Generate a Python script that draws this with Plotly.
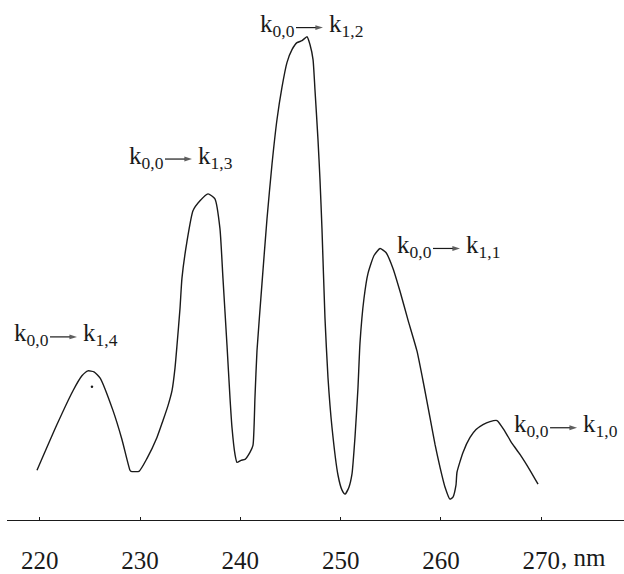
import plotly.graph_objects as go

# Absorption spectrum: wavelength (nm) vs. intensity (arb. units)
wavelength_nm = [
    219.73, 221.72, 223.32, 224.21, 224.81, 225.41, 226.01, 227.31, 228.20, 229.00,
    229.10, 229.90, 230.70, 231.69, 232.29, 232.79, 233.19, 233.49, 233.69, 233.99,
    234.18, 234.68, 235.28, 235.98, 236.78, 237.47, 237.97, 238.27, 238.67, 238.97,
    239.17, 239.47, 239.67, 240.07, 240.47, 240.96, 241.26, 241.46, 241.66, 242.16,
    242.66, 243.16, 243.66, 244.15, 244.65, 245.15, 245.65, 246.15, 246.65, 246.95,
    247.25, 247.44, 247.74, 247.94, 248.14, 248.44, 248.74, 249.14, 249.74, 250.14,
    250.44, 250.83, 251.13, 251.43, 251.73, 251.93, 252.33, 252.73, 253.33, 253.93,
    254.52, 255.22, 255.92, 256.72, 257.61, 258.31, 258.91, 259.41, 259.91, 260.41,
    260.90, 261.20, 261.50, 261.60, 262.20, 262.90, 263.50, 264.19, 264.89, 265.59,
    266.39, 267.09, 267.88, 268.88, 269.68,
]
intensity = [
    10.29, 19.75, 26.75, 29.84, 30.86, 30.66, 29.42, 22.63, 16.67, 10.29,
    10.08, 10.08, 12.76, 17.08, 20.58, 23.66, 26.75, 31.48, 36.21, 43.83,
    50.00, 57.61, 63.99, 66.05, 67.49, 66.46, 60.29, 50.00, 36.21, 25.31,
    19.14, 13.58, 11.93, 12.35, 12.55, 13.99, 15.43, 25.31, 34.98, 48.97,
    62.35, 73.66, 82.92, 89.51, 94.65, 97.33, 98.77, 99.18, 100.00, 98.35,
    95.27, 89.09, 78.81, 70.58, 60.29, 41.77, 29.42, 19.14, 9.26, 6.17,
    5.35, 6.79, 9.47, 17.08, 27.37, 36.63, 45.88, 51.03, 54.73, 56.17,
    55.35, 52.06, 47.33, 41.36, 34.98, 27.78, 21.19, 15.64, 10.91, 6.79,
    4.32, 4.73, 7.20, 9.88, 13.99, 17.08, 18.72, 19.75, 20.37, 20.58,
    18.31, 15.84, 13.58, 10.29, 7.41,
]

# stray point below the first band
dot_nm = [225.21]
dot_intensity = [27.57]

tick_values = [220, 230, 240, 250, 260, 270]
tick_labels = ["220", "230", "240", "250", "260", "270"]

# Transition labels: initial state -> final state for each band
initial_states = ["0,0", "0,0", "0,0", "0,0", "0,0"]
final_states = ["1,4", "1,3", "1,2", "1,1", "1,0"]
label_x = [217.24, 228.70, 241.76, 255.42, 267.09]
label_y = [38.3, 75.1, 102.3, 56.6, 19.5]

SERIF = '"Times New Roman", "Liberation Serif", Times, serif'
INK = "#1a1a1a"
LABEL_SIZE = 25

X_RANGE = [216.74, 278.25]
Y_RANGE = [0, 107.6]
MARGIN = dict(l=7, r=0, t=0, b=51)
WIDTH, HEIGHT = 624, 574

# pixel-per-unit factors, used to place arrow pieces relative to their labels
px_per_nm = (WIDTH - MARGIN["l"] - MARGIN["r"]) / (X_RANGE[1] - X_RANGE[0])
px_per_unit = (HEIGHT - MARGIN["t"] - MARGIN["b"]) / (Y_RANGE[1] - Y_RANGE[0])

fig = go.Figure()
fig.add_trace(go.Scatter(
    x=wavelength_nm, y=intensity, mode="lines",
    line=dict(color=INK, width=1.4, shape="spline", smoothing=0.5),
    hoverinfo="skip", showlegend=False,
))
fig.add_trace(go.Scatter(
    x=dot_nm, y=dot_intensity, mode="markers",
    marker=dict(color=INK, size=2.5),
    hoverinfo="skip", showlegend=False,
))

label_font = dict(family=SERIF, size=LABEL_SIZE, color=INK)
for s0, s1, lx, ly in zip(initial_states, final_states, label_x, label_y):
    # initial state
    fig.add_annotation(
        x=lx, y=ly, xref="x", yref="y", text=f"k<sub>{s0}</sub>",
        showarrow=False, xanchor="left", yanchor="middle", font=label_font,
    )
    # long thin arrow between the states
    ay = ly - 2 / px_per_unit
    tail = lx + 38 / px_per_nm
    head = lx + 65 / px_per_nm
    fig.add_trace(go.Scatter(
        x=[tail, head], y=[ay, ay], mode="lines+markers",
        line=dict(color=INK, width=1.2),
        marker=dict(symbol="arrow", angleref="previous", size=[0, 8],
                    color=INK, line=dict(width=0)),
        hoverinfo="skip", showlegend=False, cliponaxis=False,
    ))
    # final state
    fig.add_annotation(
        x=lx, y=ly, xref="x", yref="y", xshift=69, text=f"k<sub>{s1}</sub>",
        showarrow=False, xanchor="left", yanchor="middle", font=label_font,
    )

# unit suffix after the last tick label
fig.add_annotation(
    x=271.77, y=-0.0727, xref="x", yref="paper", text=", nm", showarrow=False,
    xanchor="left", yanchor="middle",
    font=dict(family=SERIF, size=25, color=INK),
)

fig.update_layout(
    width=WIDTH, height=HEIGHT,
    margin=MARGIN,
    paper_bgcolor="white", plot_bgcolor="white",
    font=dict(family=SERIF),
    xaxis=dict(
        range=X_RANGE, showgrid=False, zeroline=False,
        showline=True, linecolor=INK, linewidth=1.2,
        ticks="inside", ticklen=3, tickcolor=INK, tickwidth=1,
        tickvals=tick_values, ticktext=tick_labels,
        tickfont=dict(family=SERIF, size=25, color=INK),
        ticklabelstandoff=18,
    ),
    yaxis=dict(range=Y_RANGE, visible=False),
)

fig.write_html("out.html")
